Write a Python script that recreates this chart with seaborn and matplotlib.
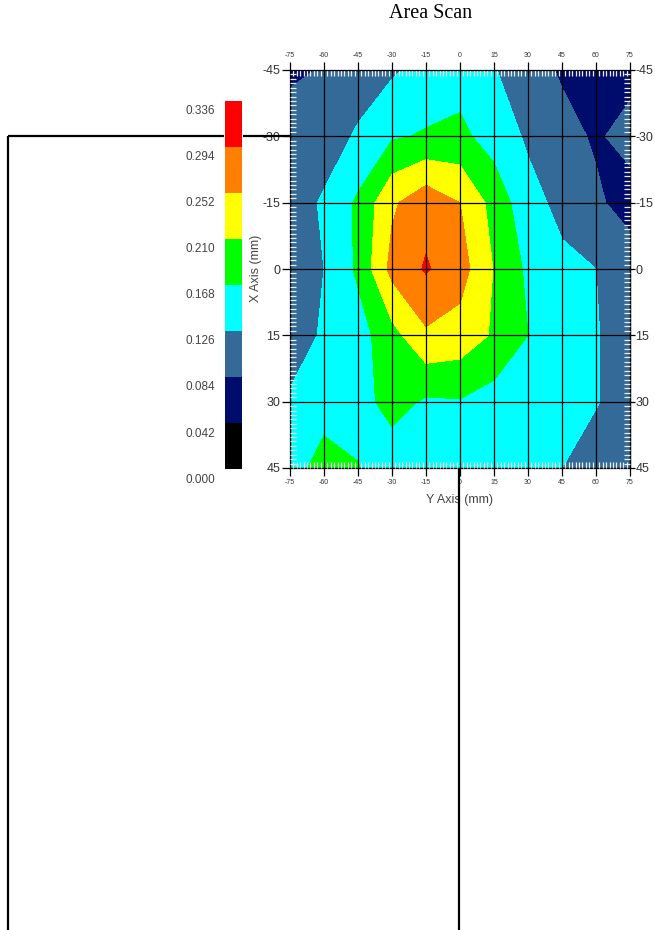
import numpy as np
import pandas as pd
import seaborn as sns
import matplotlib
matplotlib.use("Agg")
import matplotlib.pyplot as plt
from matplotlib.lines import Line2D
from matplotlib.transforms import ScaledTranslation

# ---- data ----
y_axis_mm = [-75, -60, -45, -30, -15, 0, 15, 30, 45, 60, 75]   # horizontal axis
x_axis_mm = [-45, -30, -15, 0, 15, 30, 45]                     # vertical axis (inverted)

row_m45 = [0.078, 0.086, 0.110, 0.120, 0.140, 0.150, 0.128, 0.105, 0.078, 0.060, 0.070]
row_m30 = [0.100, 0.110, 0.130, 0.163, 0.172, 0.178, 0.150, 0.120, 0.100, 0.078, 0.100]
row_m15 = [0.110, 0.130, 0.175, 0.245, 0.280, 0.252, 0.195, 0.140, 0.115, 0.092, 0.064]
row_0   = [0.110, 0.126, 0.175, 0.265, 0.298, 0.270, 0.208, 0.160, 0.135, 0.126, 0.110]
row_p15 = [0.110, 0.130, 0.150, 0.195, 0.245, 0.235, 0.205, 0.168, 0.140, 0.128, 0.110]
row_p30 = [0.130, 0.150, 0.150, 0.185, 0.162, 0.165, 0.150, 0.145, 0.140, 0.128, 0.110]
row_p45 = [0.150, 0.185, 0.170, 0.140, 0.140, 0.145, 0.145, 0.140, 0.126, 0.110, 0.110]

levels = [0.000, 0.042, 0.084, 0.126, 0.168, 0.210, 0.252, 0.294, 0.336]
level_colors = ["#000000", "#000C6B", "#346A97", "#00FFFF", "#00FF00",
                "#FFFF00", "#FF8000", "#FF0000"]

Z = np.array([row_m45, row_m30, row_m15, row_0, row_p15, row_p30, row_p45])
df = pd.DataFrame(Z, index=x_axis_mm, columns=y_axis_mm)

# ---- style ----
sns.set_style("white")
plt.rcParams["font.family"] = ["Liberation Sans", "DejaVu Sans"]
plt.rcParams["axes.unicode_minus"] = False

W, H = 655, 930
fig = plt.figure(figsize=(W / 100, H / 100), dpi=100)

def fx(px):
    return px / W

def fy(py):
    return 1 - py / H

ax = fig.add_axes([fx(290), fy(468), (630 - 290) / W, (468 - 70) / H])
XX, YY = np.meshgrid(df.columns.values, df.index.values)
cf = ax.contourf(XX, YY, df.values, levels=levels, colors=level_colors)

ax.set_xlim(-75, 75)
ax.set_ylim(45, -45)
ax.set_xticks(y_axis_mm)
ax.set_yticks(x_axis_mm)
ax.set_xticks(np.arange(-75, 75.01, 1.5), minor=True)
ax.set_yticks(np.arange(-45, 45.01, 1.0), minor=True)
ax.grid(True, which="major", color="black", lw=0.9)
ax.set_axisbelow(False)
for s in ax.spines.values():
    s.set_visible(True)
    s.set_color("black")
    s.set_linewidth(0.9)

ax.tick_params(axis="both", which="major", direction="out", length=6, width=0.9,
               color="black", top=True, bottom=True, left=True, right=False,
               labeltop=True, labelbottom=True, labelleft=True, labelright=False)
ax.tick_params(axis="x", which="major", labelsize=5, pad=2, labelcolor="#333333")
ax.tick_params(axis="y", which="major", labelsize=9, pad=1, labelcolor="#333333")
ax.tick_params(which="minor", direction="in", length=4, width=0.9,
               color="#eeeef4", top=True, right=True, bottom=True, left=True)

# right-hand labels with short ticks
sec = ax.secondary_yaxis("right")
sec.set_yticks(x_axis_mm)
sec.tick_params(direction="out", length=3.5, width=0.9, color="black",
                labelsize=9, pad=0.5, labelcolor="#333333")
sec.spines["right"].set_color("black")
sec.spines["right"].set_linewidth(0.9)

# ---- colorbar ----
cax = fig.add_axes([fx(225), fy(469), 17 / W, (469 - 101) / H])
cb = fig.colorbar(cf, cax=cax, ticks=levels)
cb.outline.set_visible(False)
cax.yaxis.set_ticks_position("left")
cb.set_ticklabels([f"{v:.3f}" for v in levels])
cax.tick_params(length=0, labelsize=8.5, labelcolor="#444444", pad=7)
off = ScaledTranslation(0, -9 / 100, fig.dpi_scale_trans)
for lbl in cax.get_yticklabels():
    lbl.set_transform(lbl.get_transform() + off)

# ---- texts ----
fig.text(fx(431), fy(13), "Area Scan", family=["Liberation Serif", "DejaVu Serif"],
         fontsize=14.5, ha="center", va="center", color="black")
fig.text(fx(459), fy(500), "Y Axis (mm)", fontsize=9, ha="center", va="center",
         color="#444444")
fig.text(fx(256), fy(268), "X Axis (mm)", fontsize=9, ha="center", va="center",
         rotation=90, color="#444444")

# ---- stray black lines ----
def fline(x0, y0, x1, y1):
    fig.add_artist(Line2D([fx(x0), fx(x1)], [fy(y0), fy(y1)],
                          transform=fig.transFigure, color="black", lw=1.6,
                          zorder=20, solid_capstyle="butt"))

fline(8, 136, 224, 136)
fline(243, 136, 290, 136)
fline(8, 135.5, 8, 930)
fline(459, 469, 459, 930)

fig.savefig("out.png", dpi=100)
